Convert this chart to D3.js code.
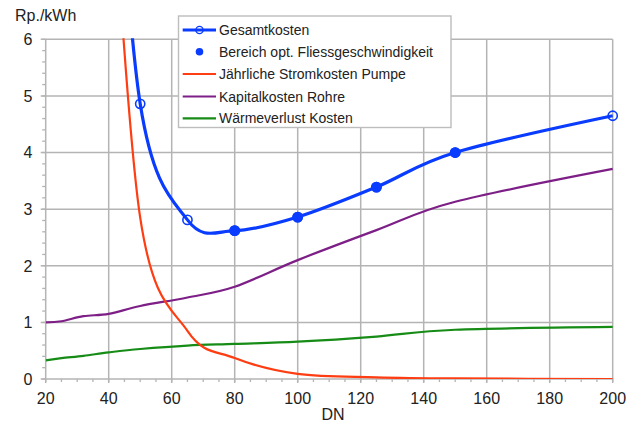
<!DOCTYPE html>
<html><head><meta charset="utf-8">
<script src="https://cdn.jsdelivr.net/npm/d3@7"></script>
<style>
body{margin:0;background:#fff;}
svg{display:block;font-family:"Liberation Sans",Arial,Helvetica,sans-serif;}
</style></head>
<body><svg id="chart" width="639" height="423"></svg>
<script>
// ---- data ----
const dnAll = [20, 25, 32, 40, 50, 65, 80, 100, 125, 150, 200];
const dnCost = [40, 50, 65, 80, 100, 125, 150, 200];
const gesamtkosten = [11.6, 4.86, 2.81, 2.62, 2.86, 3.39, 4.00, 4.65];
const optDN = [80, 100, 125, 150];
const optValues = [2.62, 2.86, 3.39, 4.00];
const stromkosten = [10.0, 2.85, 0.85, 0.37, 0.09, 0.03, 0.01, 0.0];
const kapitalkosten = [1.0, 1.02, 1.11, 1.15, 1.29, 1.44, 1.63, 2.10, 2.63, 3.13, 3.71];
const waermeverlust = [0.33, 0.37, 0.41, 0.47, 0.53, 0.59, 0.62, 0.66, 0.75, 0.87, 0.92];
const xTicks = [20, 40, 60, 80, 100, 120, 140, 160, 180, 200];
const yTicks = [0, 1, 2, 3, 4, 5, 6];
const legendLabels = ["Gesamtkosten", "Bereich opt. Fliessgeschwindigkeit", "Jährliche Stromkosten Pumpe", "Kapitalkosten Rohre", "Wärmeverlust Kosten"];
const yTitle = "Rp./kWh";
const xTitle = "DN";

// ---- layout ----
const svg = d3.select("#chart");
const mLeft = 45.7, mRight = 612.7, mTop = 39.3, mBottom = 379;
const x = d3.scaleLinear().domain([20, 200]).range([mLeft, mRight]);
const y = d3.scaleLinear().domain([0, 6]).range([mBottom, mTop]);
const gridColor = "#b4b4b4";
const textColor = "#222";

svg.append("defs").append("clipPath").attr("id", "plot")
  .append("rect").attr("x", mLeft).attr("y", mTop - 1).attr("width", mRight - mLeft + 8).attr("height", mBottom - mTop + 1);

const gAx = svg.append("g");
gAx.selectAll("line.ym").data(d3.range(0, 6.01, 0.2)).join("line")
  .attr("x1", mLeft - 3.5).attr("x2", mLeft).attr("y1", d => y(d)).attr("y2", d => y(d))
  .attr("stroke", gridColor).attr("stroke-width", 1.3);
gAx.selectAll("line.xm").data(d3.range(20, 200.1, 5)).join("line")
  .attr("x1", d => x(d)).attr("x2", d => x(d)).attr("y1", mBottom).attr("y2", mBottom + 3)
  .attr("stroke", gridColor).attr("stroke-width", 1.3);

gAx.selectAll("line.yg").data(yTicks).join("line")
  .attr("x1", mLeft - 5).attr("x2", mRight).attr("y1", d => y(d)).attr("y2", d => y(d))
  .attr("stroke", gridColor).attr("stroke-width", 1.5);
gAx.selectAll("line.xg").data(xTicks).join("line")
  .attr("x1", d => x(d)).attr("x2", d => x(d)).attr("y1", mTop).attr("y2", mBottom + 4)
  .attr("stroke", gridColor).attr("stroke-width", 1.5);

gAx.selectAll("text.yl").data(yTicks).join("text")
  .attr("x", 32.5).attr("y", d => y(d)).attr("dy", "0.36em").attr("text-anchor", "end")
  .attr("font-size", 16).attr("fill", textColor).text(d => d);
gAx.selectAll("text.xl").data(xTicks).join("text")
  .attr("x", d => x(d)).attr("y", 403.5).attr("text-anchor", "middle")
  .attr("font-size", 16).attr("fill", textColor).text(d => d);
svg.append("text").attr("x", 15).attr("y", 21).attr("font-size", 16).attr("fill", textColor).text(yTitle);
svg.append("text").attr("x", 333).attr("y", 420).attr("text-anchor", "middle").attr("font-size", 16).attr("fill", textColor).text(xTitle);

const plot = svg.append("g").attr("clip-path", "url(#plot)");
const line = d3.line().x(d => x(d[0])).y(d => y(d[1])).curve(d3.curveCardinal.tension(0));
const colors = { blue: "#0a3cff", red: "#ff3d12", purple: "#7d1f87", green: "#168c16" };

plot.append("path").datum(d3.zip(dnAll, waermeverlust)).attr("d", line)
  .attr("fill", "none").attr("stroke", colors.green).attr("stroke-width", 2.2);
plot.append("path").datum(d3.zip(dnAll, kapitalkosten)).attr("d", line)
  .attr("fill", "none").attr("stroke", colors.purple).attr("stroke-width", 2.2);
plot.append("path").datum(d3.zip(dnCost, stromkosten)).attr("d", line)
  .attr("fill", "none").attr("stroke", colors.red).attr("stroke-width", 2.2);
plot.append("path").datum(d3.zip(dnCost, gesamtkosten)).attr("d", line)
  .attr("fill", "none").attr("stroke", colors.blue).attr("stroke-width", 3.2);
plot.selectAll("circle.open").data(d3.zip(dnCost, gesamtkosten)).join("circle")
  .attr("cx", d => x(d[0])).attr("cy", d => y(d[1])).attr("r", 4.6)
  .attr("fill", "none").attr("stroke", colors.blue).attr("stroke-width", 1.6);
plot.selectAll("circle.opt").data(d3.zip(optDN, optValues)).join("circle")
  .attr("cx", d => x(d[0])).attr("cy", d => y(d[1])).attr("r", 5.4)
  .attr("fill", colors.blue);

const lg = svg.append("g");
lg.append("rect").attr("x", 178.5).attr("y", 16).attr("width", 272.5).attr("height", 111.5)
  .attr("fill", "#fff").attr("stroke", "#bdbdbd").attr("stroke-width", 1.4);
const rowY = [30, 51.7, 74, 96.5, 118.3];
const legendColors = [colors.blue, colors.blue, colors.red, colors.purple, colors.green];
legendLabels.forEach((lab, i) => {
  const yy = rowY[i];
  if (i === 0) {
    lg.append("line").attr("x1", 182.7).attr("x2", 216).attr("y1", yy).attr("y2", yy)
      .attr("stroke", colors.blue).attr("stroke-width", 3);
    lg.append("circle").attr("cx", 199.5).attr("cy", yy).attr("r", 3.6)
      .attr("fill", "none").attr("stroke", colors.blue).attr("stroke-width", 1.4);
  } else if (i === 1) {
    lg.append("circle").attr("cx", 199.5).attr("cy", yy).attr("r", 3.8).attr("fill", colors.blue);
  } else {
    lg.append("line").attr("x1", 182.7).attr("x2", 216).attr("y1", yy).attr("y2", yy)
      .attr("stroke", legendColors[i]).attr("stroke-width", 2.2);
  }
  lg.append("text").attr("x", 219).attr("y", yy).attr("dy", "0.36em")
    .attr("font-size", 14).attr("fill", textColor).text(lab);
});
</script></body></html>
